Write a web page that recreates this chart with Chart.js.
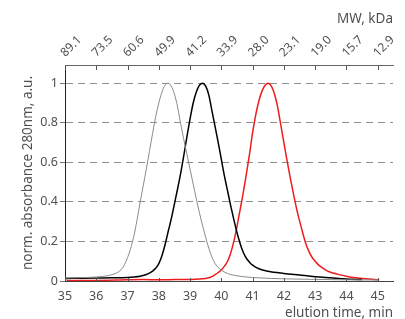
<!DOCTYPE html>
<html>
<head>
<meta charset="utf-8">
<script src="https://cdn.jsdelivr.net/npm/chart.js@4.4.1/dist/chart.umd.min.js"></script>
<style>
  html, body { margin: 0; padding: 0; background: #ffffff; }
  #wrap { width: 405px; height: 319px; position: relative; }
</style>
</head>
<body>
<div id="wrap"><canvas id="c"></canvas></div>
<script>
// ---- data ----
const timeTicks = [35, 36, 37, 38, 39, 40, 41, 42, 43, 44, 45];
const mwLabels = ['89.1', '73.5', '60.6', '49.9', '41.2', '33.9', '28.0', '23.1', '19.0', '15.7', '12.9'];

const grayT = [35.0, 35.5, 36.0, 36.2, 36.4, 36.6, 36.7, 36.8, 36.9, 37.0, 37.1, 37.2, 37.3, 37.4, 37.5, 37.6, 37.7, 37.8, 37.9, 38.0,
  38.1, 38.2, 38.3, 38.4, 38.5, 38.6, 38.7, 38.8, 38.9, 39.0, 39.1, 39.2, 39.3, 39.4, 39.5, 39.6, 39.7, 39.8, 39.9, 40.0,
  40.2, 40.4, 40.6, 40.8, 41.2, 41.6, 42.0, 43.0, 44.0, 45.0];
const grayV = [0.015, 0.017, 0.02, 0.023, 0.028, 0.037, 0.045, 0.058, 0.082, 0.118, 0.165, 0.225, 0.305, 0.395, 0.48, 0.565, 0.655, 0.745, 0.83, 0.9,
  0.955, 0.99, 1.0, 0.985, 0.945, 0.88, 0.795, 0.715, 0.64, 0.565, 0.49, 0.415, 0.345, 0.28, 0.22, 0.165, 0.12, 0.088, 0.068, 0.055,
  0.038, 0.029, 0.024, 0.02, 0.016, 0.013, 0.011, 0.008, 0.006, 0.005];

const blackT = [35.0, 35.5, 36.0, 36.5, 37.0, 37.2, 37.4, 37.6, 37.7, 37.8, 37.9, 38.0, 38.1, 38.2, 38.3, 38.4, 38.5, 38.6, 38.7, 38.8,
  38.9, 39.0, 39.1, 39.2, 39.3, 39.4, 39.5, 39.6, 39.7, 39.8, 39.9, 40.0, 40.1, 40.2, 40.3, 40.4, 40.5, 40.6, 40.7, 40.8,
  40.9, 41.0, 41.2, 41.5, 42.0, 42.5, 43.0, 43.5, 44.0, 44.5];
const blackV = [0.013, 0.014, 0.015, 0.016, 0.018, 0.02, 0.024, 0.033, 0.04, 0.05, 0.064, 0.088, 0.128, 0.183, 0.25, 0.315, 0.39, 0.465, 0.545, 0.635,
  0.73, 0.82, 0.9, 0.955, 0.99, 1.0, 0.985, 0.94, 0.86, 0.78, 0.7, 0.615, 0.53, 0.455, 0.38, 0.31, 0.245, 0.19, 0.145, 0.115,
  0.095, 0.08, 0.062, 0.049, 0.038, 0.03, 0.022, 0.016, 0.01, 0.007];

const redT = [35.05, 36.0, 37.0, 37.5, 38.0, 38.5, 39.0, 39.3, 39.5, 39.6, 39.7, 39.8, 39.9, 40.0, 40.1, 40.2, 40.3, 40.4, 40.5, 40.6,
  40.7, 40.8, 40.9, 41.0, 41.1, 41.2, 41.3, 41.4, 41.5, 41.6, 41.7, 41.8, 41.9, 42.0, 42.1, 42.2, 42.3, 42.4, 42.5, 42.6,
  42.7, 42.8, 42.9, 43.0, 43.1, 43.2, 43.4, 43.6, 43.8, 44.0, 44.3, 44.6, 45.05];
const redV = [0.003, 0.003, 0.006, 0.007, 0.006, 0.007, 0.008, 0.01, 0.013, 0.016, 0.022, 0.032, 0.043, 0.056, 0.075, 0.1, 0.142, 0.2, 0.275, 0.36,
  0.445, 0.54, 0.64, 0.75, 0.84, 0.91, 0.96, 0.99, 1.0, 0.985, 0.945, 0.88, 0.79, 0.7, 0.61, 0.525, 0.445, 0.37, 0.305, 0.245,
  0.19, 0.15, 0.12, 0.1, 0.083, 0.07, 0.05, 0.039, 0.031, 0.024, 0.016, 0.011, 0.006];

const yTitle = 'norm. absorbance 280nm, a.u.';
const xTitle = 'elution time, min';
const topTitle = 'MW, kDa';

// ---- build ----
const pts = (t, v) => t.map((x, i) => ({ x: x, y: v[i] }));
const FONT = 'Noto Sans';
const TXT = '#505050';

const innerTicks = {
  id: 'innerTicks',
  afterDraw(chart) {
    const ctx = chart.ctx, a = chart.chartArea;
    const top = chart.scales.xTop, bot = chart.scales.x;
    ctx.save();
    ctx.lineWidth = 1;
    ctx.strokeStyle = '#555';
    top.ticks.forEach(t => {
      const px = Math.round(top.getPixelForValue(t.value)) + 0.5;
      ctx.beginPath(); ctx.moveTo(px, a.top); ctx.lineTo(px, a.top + 5); ctx.stroke();
    });
    bot.ticks.forEach(t => {
      const px = Math.round(bot.getPixelForValue(t.value)) + 0.5;
      ctx.beginPath(); ctx.moveTo(px, a.bottom); ctx.lineTo(px, a.bottom - 3); ctx.stroke();
    });
    ctx.restore();
  }
};

new Chart(document.getElementById('c'), {
  type: 'line',
  data: {
    datasets: [
      { data: pts(grayT, grayV), borderColor: '#8a8a8a', borderWidth: 1, xAxisID: 'x', yAxisID: 'y' },
      { data: pts(blackT, blackV), borderColor: '#000000', borderWidth: 1.5, xAxisID: 'x', yAxisID: 'y' },
      { data: pts(redT, redV), borderColor: '#f01c1c', borderWidth: 1.5, xAxisID: 'x', yAxisID: 'y' }
    ]
  },
  options: {
    responsive: true,
    maintainAspectRatio: false,
    animation: false,
    devicePixelRatio: 1,
    layout: { padding: { left: 0, right: 12, top: 0, bottom: 0 } },
    elements: { point: { radius: 0 }, line: { cubicInterpolationMode: 'monotone', fill: false } },
    plugins: { legend: { display: false }, tooltip: { enabled: false } },
    scales: {
      x: {
        type: 'linear', position: 'bottom', min: 35, max: 45.49,
        afterFit: s => { s.height = 38; },
        afterBuildTicks: s => { s.ticks = timeTicks.map(v => ({ value: v })); },
        ticks: { color: TXT, font: { family: FONT, size: 12.5 }, padding: 8, maxRotation: 0, autoSkip: false,
                 callback: v => String(v) },
        grid: { display: false, drawTicks: false },
        border: { display: true, color: '#444', width: 1 },
        title: { display: true, text: xTitle, align: 'end', color: TXT, font: { family: FONT, size: 13.5, lineHeight: 0.85 }, padding: { top: 0, bottom: 0 } }
      },
      xTop: {
        type: 'linear', position: 'top', min: 35, max: 45.49,
        afterFit: s => { s.height = 65; },
        afterBuildTicks: s => { s.ticks = timeTicks.map(v => ({ value: v })); },
        ticks: { color: TXT, font: { family: FONT, size: 12 }, padding: 5, labelOffset: 8, minRotation: 45, maxRotation: 45, autoSkip: false,
                 callback: (v, i) => mwLabels[i] },
        grid: { display: false, drawTicks: false },
        border: { display: true, color: '#666', width: 1 },
        title: { display: true, text: topTitle, align: 'end', color: TXT, font: { family: FONT, size: 13.5, lineHeight: 1 }, padding: { top: 12, bottom: 4 } }
      },
      y: {
        type: 'linear', position: 'left', min: 0, max: 1.092,
        afterFit: s => { s.width = 65; },
        ticks: { stepSize: 0.2, includeBounds: false, color: TXT, font: { family: FONT, size: 12.5 }, padding: 2,
                 callback: v => (Math.round(v * 10) / 10).toString() },
        grid: { color: '#8f8f8f', lineWidth: 1, drawTicks: true, tickLength: 5, tickBorderDash: [], tickColor: '#777' },
        border: { display: true, color: '#222', width: 1, dash: [7, 5] },
        title: { display: true, text: yTitle, color: TXT, font: { family: FONT, size: 13.5, lineHeight: 1 }, padding: { top: 21, bottom: 0 } }
      }
    }
  },
  plugins: [innerTicks]
});
</script>
</body>
</html>
